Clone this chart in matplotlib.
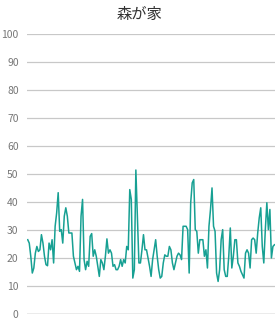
import matplotlib.pyplot as plt

plt.rcParams['font.family'] = ['Noto Sans CJK JP', 'DejaVu Sans']

# values, left to right
values = [
    26.5, 25.3, 20.6, 14.6, 16.4, 21.7, 24.1, 22.3, 22.9, 28.3, 25.3, 20.6,
    17.6, 17.2, 25.3, 22.9, 26.5, 18.2, 31.3, 36.1, 43.3, 29.5, 30.1, 25.3,
    34.9, 37.9, 34.9, 28.9, 28.9, 28.9, 20.6, 18.2, 15.8, 17.0, 15.2, 34.9,
    40.9, 19.4, 15.8, 18.8, 17.0, 27.7, 28.7, 20.6, 22.9, 20.6, 17.0, 13.4,
    19.4, 18.2, 15.8, 20.6, 26.8, 21.7, 22.9, 21.7, 17.0, 17.6, 15.8, 15.8,
    17.0, 19.4, 17.0, 19.4, 18.2, 24.1, 22.9, 44.4, 40.9, 12.8, 15.8, 51.4,
    34.9, 18.2, 18.2, 22.9, 28.3, 22.9, 22.9, 20.0, 17.0, 13.4, 19.4, 22.9,
    26.5, 20.6, 15.8, 12.8, 13.4, 18.2, 21.1, 20.6, 20.6, 24.1, 22.9, 18.2,
    15.8, 18.2, 20.6, 21.7, 21.1, 19.4, 31.3, 31.3, 31.3, 30.1, 14.6, 39.7,
    46.8, 48.0, 30.1, 29.5, 21.7, 26.5, 26.5, 26.5, 20.6, 22.9, 16.4, 31.3,
    37.3, 45.0, 31.3, 29.5, 14.6, 11.6, 15.8, 26.5, 30.1, 15.8, 13.4, 13.4,
    20.6, 30.7, 16.4, 20.6, 26.5, 26.5, 18.2, 17.0, 15.2, 14.0, 12.8, 21.7,
    22.9, 21.7, 16.4, 26.5, 27.1, 26.5, 21.7, 28.9, 34.3, 37.9, 24.1, 18.2,
    30.1, 39.7, 30.1, 37.3, 20.0, 24.1, 24.7,
]
yticks = [0, 10, 20, 30, 40, 50, 60, 70, 80, 90, 100]
title = "森が家"

fig = plt.figure(figsize=(2.78, 3.2), dpi=100)
ax = fig.add_axes([0.097, 0.019, 0.893, 0.875])

ax.plot(range(len(values)), values, color='#17a093', linewidth=1.1)

ax.set_ylim(0, 100)
ax.set_xlim(-0.5, len(values) - 0.5)
ax.set_yticks(yticks)
ax.set_yticklabels([str(t) for t in yticks], color='#777777', fontsize=7.5)
ax.set_xticks([])
ax.tick_params(axis='y', length=0, pad=6)
for t in yticks[1:]:
    ax.axhline(t, color='#c8c8c8', linewidth=0.9, zorder=0)
ax.axhline(0, color='#999999', linewidth=1.0, zorder=0)
for s in ax.spines.values():
    s.set_visible(False)

fig.text(0.5, 0.955, title, ha='center', va='center', fontsize=11, color='#333333')

fig.savefig('out.png', dpi=100)
